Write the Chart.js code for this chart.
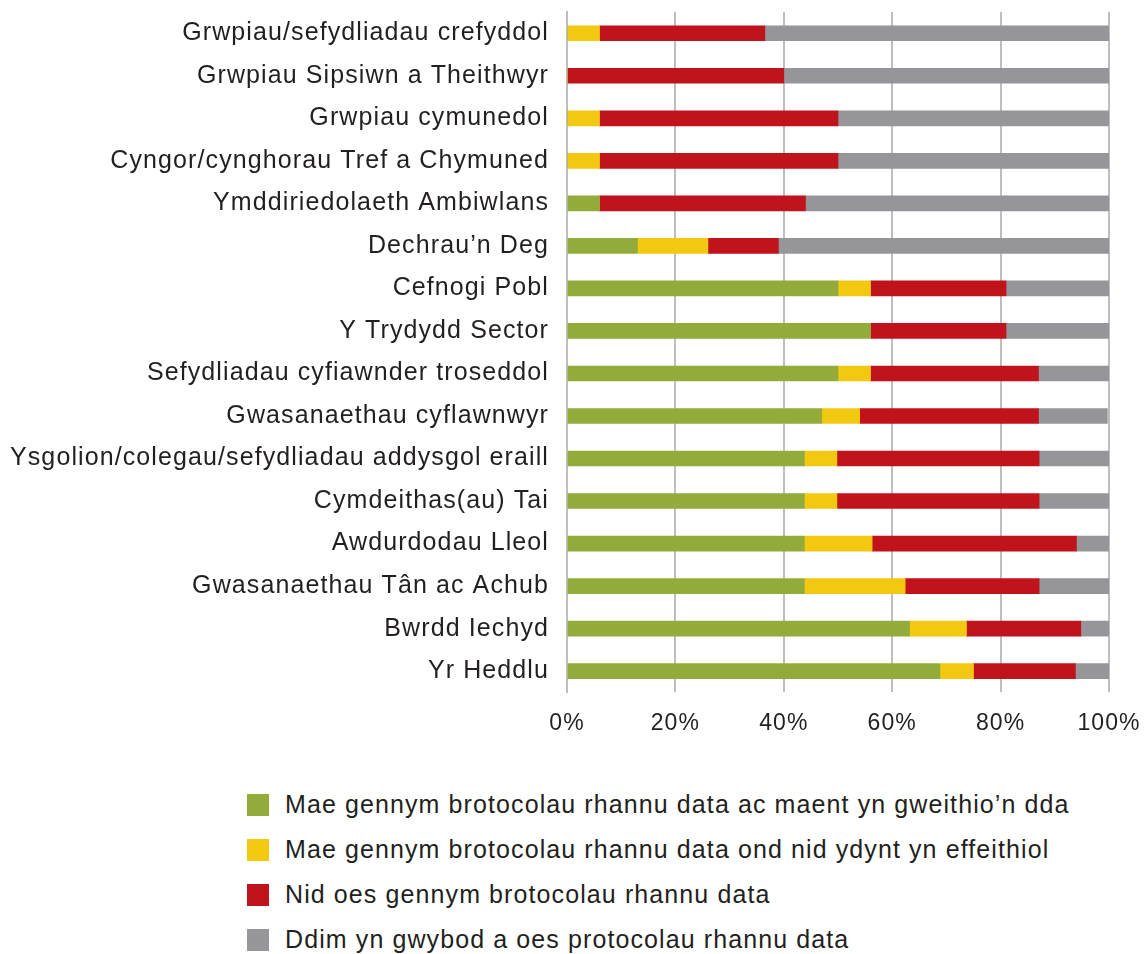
<!DOCTYPE html>
<html>
<head>
<meta charset="utf-8">
<script src="https://cdn.jsdelivr.net/npm/chart.js@4/dist/chart.umd.min.js"></script>
<style>
  body { margin: 0; background: #fff; font-family: "Liberation Sans", Arial, sans-serif; }
  #wrap { position: relative; width: 1146px; height: 954px; overflow: hidden; }
  #chartBox { position: absolute; left: 0; top: 0; width: 1146px; height: 756px; }
  #legend { position: absolute; left: 247px; top: 782px; }
  .item { display: flex; align-items: center; height: 45px; }
  .box { width: 22px; height: 22px; margin-right: 16px; }
  .item span { font-size: 25px; letter-spacing: 1.1px; color: #231f20; white-space: nowrap; }
</style>
</head>
<body>
<div id="wrap">
  <div id="chartBox"><canvas id="myChart"></canvas></div>
  <div id="legend"></div>
</div>
<script>
const labels = [
    'Grwpiau/sefydliadau crefyddol',
    'Grwpiau Sipsiwn a Theithwyr',
    'Grwpiau cymunedol',
    'Cyngor/cynghorau Tref a Chymuned',
    'Ymddiriedolaeth Ambiwlans',
    'Dechrau\u2019n Deg',
    'Cefnogi Pobl',
    'Y Trydydd Sector',
    'Sefydliadau cyfiawnder troseddol',
    'Gwasanaethau cyflawnwyr',
    'Ysgolion/colegau/sefydliadau addysgol eraill',
    'Cymdeithas(au) Tai',
    'Awdurdodau Lleol',
    'Gwasanaethau T\u00e2n ac Achub',
    'Bwrdd Iechyd',
    'Yr Heddlu',
]

// percentages
const working    = [0, 0, 0, 0, 6, 13, 50, 56, 50, 47, 43.8, 43.8, 43.8, 43.8, 63.2, 68.8]
const notWorking = [6, 0, 6, 6, 0, 13, 6, 0, 6, 7, 6, 6, 12.5, 18.6, 10.5, 6.2]
const none       = [30.5, 40, 44, 44, 38, 13, 25, 25, 31, 33, 37.3, 37.3, 37.7, 24.7, 21.1, 18.8]
const dontKnow   = [63.5, 60, 50, 50, 56, 61, 19, 19, 13, 12.7, 12.9, 12.9, 6, 12.9, 5.2, 6.2]

const seriesNames = [
    'Mae gennym brotocolau rhannu data ac maent yn gweithio\u2019n dda',
    'Mae gennym brotocolau rhannu data ond nid ydynt yn effeithiol',
    'Nid oes gennym brotocolau rhannu data',
    'Ddim yn gwybod a oes protocolau rhannu data',
]
const xTicks = [0, 20, 40, 60, 80, 100]

const colours = ['#93ab3b', '#f2c811', '#c0131b', '#96969a']
const values = [working, notWorking, none, dontKnow]

const data = {
    labels,
    datasets: seriesNames.map((name, i) => ({
        label: name,
        data: values[i],
        backgroundColor: colours[i],
        borderWidth: 0,
        barThickness: 15,
    })),
}

const FONT = '"Liberation Sans", Arial, sans-serif'

// the original text is a bit wider-spaced than plain Arial
const spacing = {
    id: 'spacing',
    beforeUpdate(chart) { chart.ctx.letterSpacing = '1.1px' },
    beforeDraw(chart) { chart.ctx.letterSpacing = '1.1px' },
}

// keep the label overhang from shrinking the plot area
const noPad = (scale) => {
    scale.paddingTop = 0
    scale.paddingBottom = 0
    scale.paddingLeft = 0
    scale.paddingRight = 0
}

const ctx = document.getElementById('myChart').getContext('2d')

const config = {
    type: 'bar',
    data: data,
    plugins: [spacing],
    options: {
        indexAxis: 'y',
        responsive: true,
        maintainAspectRatio: false,
        animation: false,
        layout: {
            padding: { top: 12, right: 37, bottom: 2, left: 0 },
        },
        plugins: {
            legend: { display: false },
            tooltip: { enabled: false },
        },
        scales: {
            x: {
                stacked: true,
                min: 0,
                max: 100,
                afterBuildTicks: (axis) => {
                    axis.ticks = xTicks.map(v => ({ value: v }))
                },
                afterFit: noPad,
                grid: {
                    color: '#bcbec0',
                    lineWidth: 2,
                    drawTicks: false,
                },
                border: { display: false },
                ticks: {
                    padding: 17,
                    color: '#231f20',
                    font: { family: FONT, size: 23 },
                    callback: function (value) {
                        return value + '%'
                    },
                },
            },
            y: {
                stacked: true,
                afterFit: (scale) => {
                    noPad(scale)
                    scale.width = 567
                },
                grid: { display: false, drawTicks: false },
                border: { display: true, color: '#bcbec0', width: 2 },
                ticks: {
                    padding: 18,
                    color: '#231f20',
                    font: { family: FONT, size: 25 },
                },
            },
        },
    },
}

const myChart = new Chart(ctx, config)

// legend on the page, left-aligned like the original
const legendEl = document.getElementById('legend')
seriesNames.forEach((name, i) => {
    const row = document.createElement('div')
    row.className = 'item'
    const box = document.createElement('div')
    box.className = 'box'
    box.style.background = colours[i]
    const txt = document.createElement('span')
    txt.textContent = name
    row.appendChild(box)
    row.appendChild(txt)
    legendEl.appendChild(row)
})
</script>
</body>
</html>
